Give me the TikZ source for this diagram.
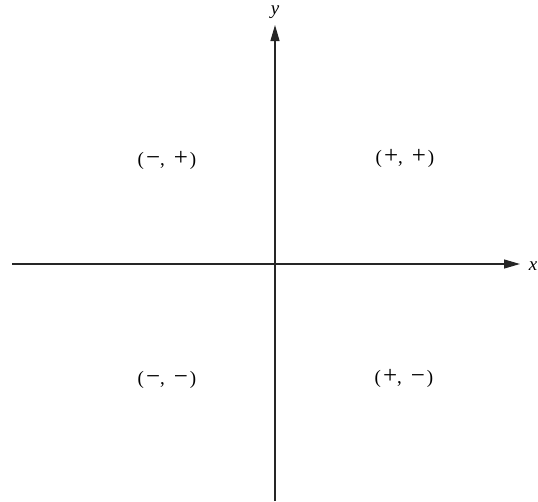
\documentclass[tikz,border=0pt]{standalone}
\usepackage{fontspec}
\setmainfont{Liberation Serif}
\usetikzlibrary{arrows.meta}
\newcommand{\sgn}[1]{{\fontsize{25}{26}\selectfont #1}}
\newcommand{\pair}[2]{(\kern2pt\sgn{#1},\kern9pt\sgn{#2}\kern2pt)}
\begin{document}
\begin{tikzpicture}[x=1pt,y=-1pt,
  axis/.style={line width=1.2pt,draw=black!85,-{Triangle[length=16pt,width=9pt]}},
  quad/.style={font=\fontsize{19}{22}\selectfont,inner sep=0pt},
  axlabel/.style={font=\fontsize{19}{20}\selectfont\itshape,inner sep=0pt}]
\useasboundingbox (0,0) rectangle (538,501);
\coordinate (xs) at (12,264);
\coordinate (xe) at (520,264);
\coordinate (ys) at (275,501);
\coordinate (ye) at (275,25);
\draw[axis] (xs) -- (xe);
\draw[axis] (ys) -- (ye);
\node[axlabel] (xl) at (533,266) {x};
\node[axlabel] (yl) at (275,12) {y};
\node[quad] (mp) at (167,160) {\pair{−}{+}};
\node[quad] (pp) at (405,158) {\pair{+}{+}};
\node[quad] (mm) at (167,380) {\pair{−}{−}};
\node[quad] (pm) at (404,378) {\pair{+}{−}};
\end{tikzpicture}
\end{document}
